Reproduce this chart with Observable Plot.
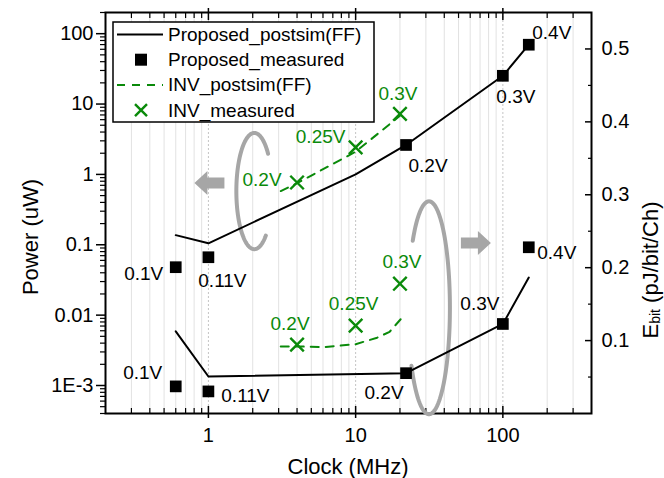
<!DOCTYPE html>
<html>
<head>
<meta charset="utf-8">
<script src="https://cdn.jsdelivr.net/npm/d3@7"></script>
<script src="https://cdn.jsdelivr.net/npm/@observablehq/plot@0.6"></script>
<style>
  body { margin: 0; background: #fff; }
  #chart { position: relative; width: 664px; height: 478px; font-family: "Liberation Sans", Arial, sans-serif; }
  #chart svg { position: absolute; left: 0; top: 0; }
</style>
</head>
<body>
<div id="chart"></div>
<script>
// ---- Power (uW) vs clock (MHz), left log axis ----
const clockProposedSim  = [0.6, 1, 10, 22, 100, 150];
const powerProposedSim  = [0.137, 0.105, 1.0, 2.62, 25.2, 69.7];
const clockProposedMeas = [0.6, 1, 22, 100, 150];
const powerProposedMeas = [0.048, 0.0665, 2.62, 25.2, 69.7];
const voltProposed      = ["0.1V", "0.11V", "0.2V", "0.3V", "0.4V"];

const clockInvSim  = [3.1, 4, 10, 20];
const powerInvSim  = [0.58, 0.75, 2.1, 6.8];
const clockInvMeas = [4, 10, 20];
const powerInvMeas = [0.767, 2.42, 7.24];
const voltInv      = ["0.2V", "0.25V", "0.3V"];

// ---- Energy per bit (pJ/bit/Ch), right linear axis ----
const clockProposedSimE = [0.6, 1, 22, 100, 150];
const ebitProposedSim   = [0.1127, 0.0508, 0.0553, 0.1228, 0.1865];
const ebitProposedMeas  = [0.0372, 0.0303, 0.0553, 0.1228, 0.228];
const clockInvSimE      = [3.1, 4, 6, 10, 14, 17, 21];
const ebitInvSim        = [0.092, 0.092, 0.091, 0.095, 0.104, 0.112, 0.133];
const ebitInvMeas       = [0.0945, 0.1205, 0.178];

// ---- Axis ticks ----
const clockMajor = [1, 10, 100];
const clockTickLabels = ["1", "10", "100"];
const clockMinor = [0.3, 0.4, 0.5, 0.6, 0.7, 0.8, 0.9, 2, 3, 4, 5, 6, 7, 8, 9,
                    20, 30, 40, 50, 60, 70, 80, 90, 200, 300];
const powerMajor = [0.001, 0.01, 0.1, 1, 10, 100];
const powerTickLabels = ["1E-3", "0.01", "0.1", "1", "10", "100"];
const ebitMajor = [0.1, 0.2, 0.3, 0.4, 0.5];
const ebitTickLabels = ["0.1", "0.2", "0.3", "0.4", "0.5"];
const ebitMinor = [0.05, 0.15, 0.25, 0.35, 0.45];

const powerDomain = [4e-4, 200];
const powerMinor = [];
for (let k = -4; k <= 2; k++) {
  for (let m = 2; m <= 9; m++) {
    const v = m * Math.pow(10, k);
    if (v >= powerDomain[0] && v <= powerDomain[1]) powerMinor.push(v);
  }
}

// ---- Label nudges (px) for the voltage annotations ----
const nudgeProposedPower = [[-32, 7], [14, 24], [22, 21], [13, 21], [23, -12]];
const nudgeProposedEbit  = [[-33, -13], [37, 4], [-22, 20], [-23, -20], [28, 6]];
const nudgeInvPower      = [[-35, -3], [-35, -10], [-2, -20]];
const nudgeInvEbit       = [[-7, -21], [-2, -22], [2, -22]];

// ---- Styling ----
const W = 664, H = 478;
const margins = {marginLeft: 105, marginRight: 73, marginTop: 12, marginBottom: 65};
const FONT = "'Liberation Sans', Arial, sans-serif";
const green = "#0a8a0a";
const gray = "#a6a6a6";

const rows = (xs, ys, labels) => xs.map((x, i) => ({x, y: ys[i], label: labels ? labels[i] : ""}));

// Annotation shapes in data units
const ellipsePower = {cx: 2.05, cy: 0.58, rx: 0.122, ry: 0.826, from: 50, to: 321};
const ellipseEbit  = {cx: 31.5, cy: 0.145, rx: 0.142, ry: 0.146, from: 219, to: 508};
const arrowPower = {x: 1.016, y: 0.755};
const arrowEbit  = {x: 65.6, y: 0.234};

function arcLog(e) {
  return d3.range(e.from, e.to + 0.01, 2).map(a => {
    const t = a * Math.PI / 180;
    return {x: e.cx * Math.pow(10, e.rx * Math.cos(t)), y: e.cy * Math.pow(10, -e.ry * Math.sin(t))};
  });
}
function arcLin(e) {
  return d3.range(e.from, e.to + 0.01, 2).map(a => {
    const t = a * Math.PI / 180;
    return {x: e.cx * Math.pow(10, e.rx * Math.cos(t)), y: e.cy - e.ry * Math.sin(t)};
  });
}

// Block arrow symbol (dir = -1 points left, +1 points right)
function blockArrow(dir) {
  return {
    draw(context, size) {
      const s = Math.sqrt(size / Math.PI) / 15;
      const pts = [[-15, 0], [-2, -12], [-2, -5.5], [15, -5.5], [15, 5.5], [-2, 5.5], [-2, 12]];
      pts.forEach(([px, py], i) => {
        const X = -dir * px * s, Y = py * s;
        if (i === 0) context.moveTo(X, Y); else context.lineTo(X, Y);
      });
      context.closePath();
    }
  };
}

function labelMarks(data, nudges, color) {
  return data.map((d, i) => Plot.text([d], {
    x: "x", y: "y", text: "label",
    dx: nudges[i][0], dy: nudges[i][1],
    fill: color, fontSize: 19, textAnchor: "middle", lineAnchor: "middle"
  }));
}

const pSim = rows(clockProposedSim, powerProposedSim);
const pMeas = rows(clockProposedMeas, powerProposedMeas, voltProposed);
const iSim = rows(clockInvSim, powerInvSim);
const iMeas = rows(clockInvMeas, powerInvMeas, voltInv);
const eSim = rows(clockProposedSimE, ebitProposedSim);
const eMeas = rows(clockProposedMeas, ebitProposedMeas, voltProposed);
const eiSim = rows(clockInvSimE, ebitInvSim);
const eiMeas = rows(clockInvMeas, ebitInvMeas, voltInv);

const noText = () => "";

// Layer 1: power (left axis), grid, frame
const plotPower = Plot.plot({
  width: W, height: H, ...margins,
  x: {type: "log", domain: [0.2, 400]},
  y: {type: "log", domain: powerDomain},
  style: {fontFamily: FONT, background: "white", overflow: "visible", color: "black"},
  marks: [
    Plot.ruleX(clockMinor, {stroke: "#e2e2e2", strokeWidth: 1}),
    Plot.ruleX(clockMajor, {stroke: "#c4c4c4", strokeWidth: 1, strokeDasharray: "2,2"}),
    Plot.frame({stroke: "black", strokeWidth: 2}),
    Plot.axisY({anchor: "left", ticks: powerMajor, tickSize: 9, tickPadding: 3, fontSize: 20,
      tickFormat: d => powerTickLabels[powerMajor.indexOf(d)], label: null, strokeWidth: 1.5}),
    Plot.axisY({anchor: "left", ticks: powerMinor, tickSize: 5, tickFormat: noText, label: null, strokeWidth: 1.2}),
    Plot.axisX({anchor: "bottom", ticks: clockMajor, tickSize: 0, tickPadding: 14, fontSize: 20,
      tickFormat: d => clockTickLabels[clockMajor.indexOf(d)], label: null}),
    Plot.axisX({anchor: "bottom", ticks: clockMajor, tickSize: 12, dy: -7, tickFormat: noText, label: null, strokeWidth: 1.5}),
    Plot.axisX({anchor: "bottom", ticks: clockMinor, tickSize: 5, dy: -5, tickFormat: noText, label: null, strokeWidth: 1.2}),
    Plot.axisX({anchor: "top", ticks: clockMajor, tickSize: 12, dy: 7, tickFormat: noText, label: null, strokeWidth: 1.5}),
    Plot.axisX({anchor: "top", ticks: clockMinor, tickSize: 5, dy: 5, tickFormat: noText, label: null, strokeWidth: 1.2}),
    // annotation: arc + arrow pointing to the power axis
    Plot.line(arcLog(ellipsePower), {x: "x", y: "y", stroke: gray, strokeWidth: 4, curve: "linear"}),
    Plot.dot([arrowPower], {x: "x", y: "y", symbol: blockArrow(-1), r: 15, fill: gray, stroke: "none"}),
    // series
    Plot.line(pSim, {x: "x", y: "y", stroke: "black", strokeWidth: 2}),
    Plot.line(iSim, {x: "x", y: "y", stroke: green, strokeWidth: 2, strokeDasharray: "8,7"}),
    Plot.dot(pMeas, {x: "x", y: "y", symbol: "square", r: 6.6, fill: "black", stroke: "none"}),
    Plot.dot(iMeas, {x: "x", y: "y", symbol: "times", r: 6.2, stroke: green, strokeWidth: 2.4}),
    ...labelMarks(pMeas, nudgeProposedPower, "black"),
    ...labelMarks(iMeas, nudgeInvPower, green)
  ]
});

// Layer 2: energy per bit (right axis)
const plotEbit = Plot.plot({
  width: W, height: H, ...margins,
  x: {type: "log", domain: [0.2, 400], axis: null},
  y: {type: "linear", domain: [0, 0.55]},
  style: {fontFamily: FONT, background: "transparent", overflow: "visible", color: "black"},
  marks: [
    Plot.axisY({anchor: "right", ticks: ebitMajor, tickSize: 0, tickPadding: 10, fontSize: 20,
      tickFormat: d => ebitTickLabels[ebitMajor.indexOf(d)], label: null}),
    Plot.axisY({anchor: "right", ticks: ebitMajor, tickSize: 7, dx: -7, tickFormat: noText, label: null, strokeWidth: 1.5}),
    Plot.axisY({anchor: "right", ticks: ebitMinor, tickSize: 4, dx: -4, tickFormat: noText, label: null, strokeWidth: 1.2}),
    Plot.line(arcLin(ellipseEbit), {x: "x", y: "y", stroke: gray, strokeWidth: 4, curve: "linear"}),
    Plot.dot([arrowEbit], {x: "x", y: "y", symbol: blockArrow(1), r: 15, fill: gray, stroke: "none"}),
    Plot.line(eSim, {x: "x", y: "y", stroke: "black", strokeWidth: 2}),
    Plot.line(eiSim, {x: "x", y: "y", stroke: green, strokeWidth: 2, strokeDasharray: "8,7"}),
    Plot.dot(eMeas, {x: "x", y: "y", symbol: "square", r: 6.6, fill: "black", stroke: "none"}),
    Plot.dot(eiMeas, {x: "x", y: "y", symbol: "times", r: 6.2, stroke: green, strokeWidth: 2.4}),
    ...labelMarks(eMeas, nudgeProposedEbit, "black"),
    ...labelMarks(eiMeas, nudgeInvEbit, green)
  ]
});

const chart = document.getElementById("chart");
chart.appendChild(plotPower);
chart.appendChild(plotEbit);

// Axis titles
const svg = d3.select(plotEbit);
svg.append("text")
  .attr("transform", "translate(30,237) rotate(-90)")
  .attr("text-anchor", "middle").attr("dominant-baseline", "central")
  .style("font-size", "22px").attr("fill", "black")
  .text("Power (uW)");
svg.append("text")
  .attr("x", 348).attr("y", 466)
  .attr("text-anchor", "middle").attr("dominant-baseline", "central")
  .style("font-size", "22px").attr("fill", "black")
  .text("Clock (MHz)");
const eTitle = svg.append("text")
  .attr("transform", "translate(650,270) rotate(-90)")
  .attr("text-anchor", "middle").attr("dominant-baseline", "central")
  .style("font-size", "22px").attr("fill", "black");
eTitle.append("tspan").text("E");
eTitle.append("tspan").attr("dy", 5).style("font-size", "14px").text("bit");
eTitle.append("tspan").attr("dy", -5).text(" (pJ/bit/Ch)");

// Legend
const legendItems = [
  {label: "Proposed_postsim(FF)", kind: "line", color: "black"},
  {label: "Proposed_measured", kind: "square", color: "black"},
  {label: "INV_postsim(FF)", kind: "dash", color: green},
  {label: "INV_measured", kind: "times", color: green}
];
const lg = svg.append("g").attr("transform", "translate(113,22)");
lg.append("rect").attr("width", 261).attr("height", 100)
  .attr("fill", "white").attr("stroke", "black").attr("stroke-width", 1.5);
legendItems.forEach((item, i) => {
  const y = 12.5 + i * 25.2;
  const g = lg.append("g").attr("transform", `translate(0,${y})`);
  if (item.kind === "line" || item.kind === "dash") {
    g.append("line").attr("x1", 4).attr("x2", 50).attr("y1", 0).attr("y2", 0)
      .attr("stroke", item.color).attr("stroke-width", 2)
      .attr("stroke-dasharray", item.kind === "dash" ? "8,7" : null);
  } else if (item.kind === "square") {
    g.append("rect").attr("x", 22).attr("y", -6).attr("width", 12).attr("height", 12).attr("fill", item.color);
  } else {
    g.append("path").attr("d", "M22,-6L34,6M22,6L34,-6")
      .attr("stroke", item.color).attr("stroke-width", 2.4).attr("fill", "none");
  }
  g.append("text").attr("x", 55).attr("y", 0).attr("dominant-baseline", "central")
    .attr("text-anchor", "start")
    .style("font-size", "19px").attr("fill", "black").text(item.label);
});
</script>
</body>
</html>
